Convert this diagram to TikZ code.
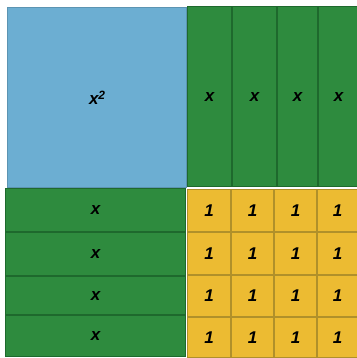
\documentclass[tikz,border=0pt]{standalone}
\usepackage{fontspec}
\setsansfont{Liberation Sans}

\definecolor{sqblue}{RGB}{108,174,210}
\definecolor{stripgreen}{RGB}{46,139,62}
\definecolor{stripedge}{RGB}{30,105,45}
\definecolor{unityellow}{RGB}{236,187,50}
\definecolor{unitedge}{RGB}{176,144,42}

\tikzset{
    tile/.style={anchor=north west, inner sep=0pt, line width=1.2pt,
        font=\sffamily\bfseries\itshape\fontsize{17}{20}\selectfont},
    bigsq/.style={tile, fill=sqblue, draw=sqblue!85!black},
    strip/.style={tile, fill=stripgreen, draw=stripedge},
    unit/.style={tile, fill=unityellow, draw=unitedge},
}

\begin{document}
\begin{tikzpicture}[x=1pt,y=-1pt]
    \useasboundingbox (0,0) rectangle (356,358);
    % x^2
    \node[bigsq, minimum width=179pt, minimum height=180pt] (xsq) at (7,7) {x\raisebox{5pt}{\fontsize{12}{12}\selectfont 2}};
    % vertical x strips
    \node[strip, minimum width=44pt, minimum height=180pt] (xv1) at (187,6) {x};
    \node[strip, minimum width=44pt, minimum height=180pt] (xv2) at (232,6) {x};
    \node[strip, minimum width=40pt, minimum height=180pt] (xv3) at (277,6) {x};
    \node[strip, minimum width=40pt, minimum height=180pt] (xv4) at (318,6) {x};
    % horizontal x strips
    \node[strip, minimum width=180pt, minimum height=43pt] (xh1) at (5,188) {x};
    \node[strip, minimum width=180pt, minimum height=43pt] (xh2) at (5,232) {x};
    \node[strip, minimum width=180pt, minimum height=38pt] (xh3) at (5,276) {x};
    \node[strip, minimum width=180pt, minimum height=41pt] (xh4) at (5,315) {x};
    % unit squares
    \node[unit, minimum width=43pt, minimum height=42pt] (u11) at (187,189) {1};
    \node[unit, minimum width=42pt, minimum height=42pt] (u12) at (231,189) {1};
    \node[unit, minimum width=42pt, minimum height=42pt] (u13) at (274,189) {1};
    \node[unit, minimum width=40pt, minimum height=42pt] (u14) at (317,189) {1};
    \node[unit, minimum width=43pt, minimum height=42pt] (u21) at (187,232) {1};
    \node[unit, minimum width=42pt, minimum height=42pt] (u22) at (231,232) {1};
    \node[unit, minimum width=42pt, minimum height=42pt] (u23) at (274,232) {1};
    \node[unit, minimum width=40pt, minimum height=42pt] (u24) at (317,232) {1};
    \node[unit, minimum width=43pt, minimum height=41pt] (u31) at (187,275) {1};
    \node[unit, minimum width=42pt, minimum height=41pt] (u32) at (231,275) {1};
    \node[unit, minimum width=42pt, minimum height=41pt] (u33) at (274,275) {1};
    \node[unit, minimum width=40pt, minimum height=41pt] (u34) at (317,275) {1};
    \node[unit, minimum width=43pt, minimum height=40pt] (u41) at (187,317) {1};
    \node[unit, minimum width=42pt, minimum height=40pt] (u42) at (231,317) {1};
    \node[unit, minimum width=42pt, minimum height=40pt] (u43) at (274,317) {1};
    \node[unit, minimum width=40pt, minimum height=40pt] (u44) at (317,317) {1};
\end{tikzpicture}
\end{document}
